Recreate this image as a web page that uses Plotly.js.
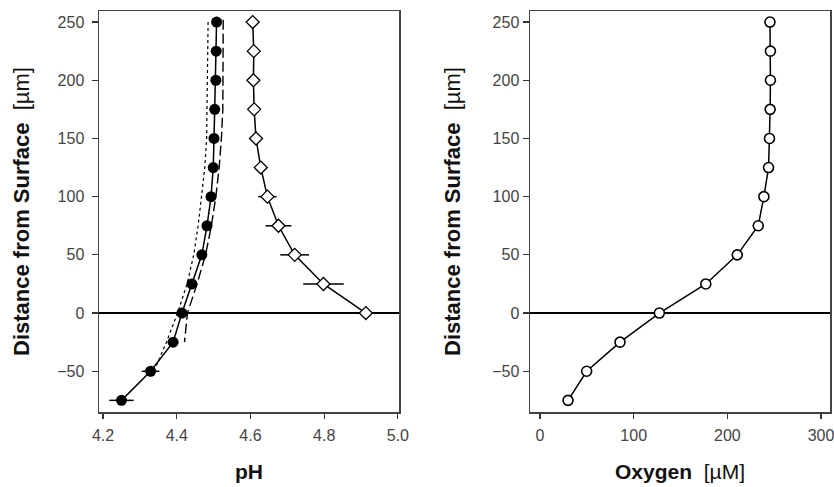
<!DOCTYPE html>
<html>
<head>
<meta charset="utf-8">
<script src="https://cdn.plot.ly/plotly-3.0.1.min.js"></script>
<style>html,body{margin:0;padding:0;background:#fff}#chart{width:834px;height:487px}</style>
</head>
<body>
<div id="chart"></div>
<script>
// Depths (µm from surface)
var depth = [250,225,200,175,150,125,100,75,50,25,0,-25,-50,-75];
// pH, filled circles
var phFilled = [4.508,4.507,4.506,4.503,4.501,4.499,4.493,4.482,4.468,4.441,4.414,4.390,4.329,4.250];
var phFilledErr = [0.004,0.004,0.004,0.004,0.004,0.005,0.006,0.008,0.008,0.010,0.010,0.014,0.024,0.033];
// pH, open diamonds
var depthOpen = [250,225,200,175,150,125,100,75,50,25,0];
var phOpen = [4.606,4.609,4.608,4.610,4.615,4.628,4.646,4.676,4.720,4.798,4.913];
var phOpenErr = [0.005,0.005,0.005,0.005,0.008,0.012,0.025,0.035,0.039,0.055,0.03];
// model curves
var depthDot = [250,200,150,125,100,75,50,25,0,-25,-45];
var phDot = [4.485,4.484,4.481,4.476,4.468,4.458,4.446,4.428,4.402,4.372,4.345];
var depthDash = [252,175,150,125,100,75,50,25,0,-25];
var phDash = [4.526,4.525,4.521,4.515,4.506,4.494,4.478,4.455,4.429,4.421];
// Oxygen (µM)
var oxygen = [245.5,246,246,245.7,245,244,239,233,210.6,177,127.4,85.4,49.8,29.9];

var phTicks = [4.2,4.4,4.6,4.8,5.0];
var oxyTicks = [0,100,200,300];
var depthTicks = [-50,0,50,100,150,200,250];

var FONT = 'Liberation Sans, Arial, Helvetica, sans-serif';

var traces = [
  {x: phDot, y: depthDot, mode: 'lines', line: {color: '#000', width: 1.2, dash: 'dot'}, xaxis: 'x', yaxis: 'y', hoverinfo: 'skip'},
  {x: phDash, y: depthDash, mode: 'lines', line: {color: '#000', width: 1.4, dash: '10px,4px'}, xaxis: 'x', yaxis: 'y', hoverinfo: 'skip'},
  {x: phFilled, y: depth, mode: 'lines+markers', line: {color: '#000', width: 1.5},
   marker: {symbol: 'circle', size: 11, color: '#000'},
   error_x: {type: 'data', array: phFilledErr, visible: true, color: '#000', thickness: 1.5, width: 0},
   xaxis: 'x', yaxis: 'y'},
  {x: phOpen, y: depthOpen, mode: 'lines+markers', line: {color: '#000', width: 1.5},
   marker: {symbol: 'diamond', size: 10, color: '#fff', line: {color: '#000', width: 1.3}},
   error_x: {type: 'data', array: phOpenErr, visible: true, color: '#000', thickness: 1.5, width: 0},
   xaxis: 'x', yaxis: 'y'},
  {x: oxygen, y: depth, mode: 'lines+markers', line: {color: '#000', width: 1.5},
   marker: {symbol: 'circle', size: 10, color: '#fff', line: {color: '#000', width: 1.6}},
   xaxis: 'x2', yaxis: 'y2'}
];

function yAxis(anchor, labelGap, titleGap) {
  return {
    anchor: anchor, domain: [0, 1], range: [-85, 259.5],
    tickvals: depthTicks, ticks: 'outside', ticklen: 6, tickwidth: 1.2, tickcolor: '#333',
    ticklabelstandoff: labelGap,
    showline: true, linecolor: '#444', linewidth: 1.5, mirror: true,
    showgrid: false, zeroline: true, zerolinecolor: '#000', zerolinewidth: 1.5,
    tickfont: {family: FONT, size: 16, color: '#444'},
    title: {text: '<b>Distance from Surface</b>\u00a0\u00a0[µm]', font: {family: FONT, size: 22, color: '#111'}, standoff: titleGap},
    automargin: false, fixedrange: true
  };
}

var layout = {
  width: 834, height: 487,
  margin: {l: 99, r: 4, t: 11, b: 75},
  paper_bgcolor: '#fff', plot_bgcolor: '#fff',
  showlegend: false,
  xaxis: {
    domain: [0, 300/731], anchor: 'y', range: [4.189, 5.003],
    tickvals: phTicks, ticktext: phTicks.map(function(v){return v.toFixed(1);}),
    ticks: 'outside', ticklen: 5, tickwidth: 1.2, tickcolor: '#333',
    ticklabelstandoff: 3,
    showline: true, linecolor: '#444', linewidth: 1.5, mirror: true,
    showgrid: false, zeroline: false,
    tickfont: {family: FONT, size: 16, color: '#444'},
    title: {text: '<b>pH</b>', font: {family: FONT, size: 21, color: '#111'}, standoff: 21},
    automargin: false, fixedrange: true
  },
  yaxis: yAxis('x', 4, 21),
  xaxis2: {
    domain: [431/731, 1], anchor: 'y2', range: [-10.7, 309.6],
    tickvals: oxyTicks,
    ticks: 'outside', ticklen: 5, tickwidth: 1.2, tickcolor: '#333',
    ticklabelstandoff: 3, ticklabeloverflow: 'allow',
    showline: true, linecolor: '#444', linewidth: 1.5, mirror: true,
    showgrid: false, zeroline: false,
    tickfont: {family: FONT, size: 16, color: '#444'},
    title: {text: '<b>Oxygen</b>\u00a0\u00a0[µM]', font: {family: FONT, size: 21, color: '#111'}, standoff: 21},
    automargin: false, fixedrange: true
  },
  yaxis2: yAxis('x2', 0, 25)
};

Plotly.newPlot('chart', traces, layout, {staticPlot: true, displayModeBar: false});
</script>
</body>
</html>
